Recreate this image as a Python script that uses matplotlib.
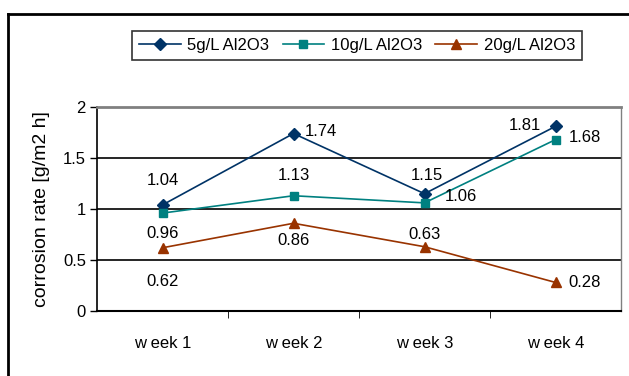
import matplotlib.pyplot as plt
from matplotlib.lines import Line2D

plt.rcParams['font.family'] = ['Liberation Sans', 'DejaVu Sans']

weeks = ['w eek 1', 'w eek 2', 'w eek 3', 'w eek 4']
al_5 = [1.04, 1.74, 1.15, 1.81]
al_10 = [0.96, 1.13, 1.06, 1.68]
al_20 = [0.62, 0.86, 0.63, 0.28]

x = [1, 2, 3, 4]

fig = plt.figure(figsize=(6.29, 3.76), dpi=100)
ax = fig.add_axes([97/629, 1-311/376, 524/629, 204/376])

ax.plot(x, al_5, '-D', color='#003366', ms=6, lw=1.2, label='5g/L Al2O3')
ax.plot(x, al_10, '-s', color='#008080', ms=6, lw=1.2, label='10g/L Al2O3')
ax.plot(x, al_20, '-^', color='#993300', ms=7, lw=1.2, label='20g/L Al2O3')

# label offsets in pixels (dx, dy, ha)
off_5 = [(0, 24, 'center'), (11, 2, 'left'), (2, 18, 'center'), (-14, 1, 'right')]
off_10 = [(0, -20, 'center'), (0, 20, 'center'), (20, 6, 'left'), (13, 2, 'left')]
off_20 = [(0, -34, 'center'), (0, -17, 'center'), (0, 12, 'center'), (13, 0, 'left')]
for vals, offs in [(al_5, off_5), (al_10, off_10), (al_20, off_20)]:
    for xi, v, (dx, dy, ha) in zip(x, vals, offs):
        ax.annotate(f'{v:.2f}', (xi, v), xytext=(dx, dy), textcoords='offset pixels',
                    ha=ha, va='center', fontsize=12)

ax.set_xlim(0.5, 4.5)
ax.set_ylim(0, 2)
ax.set_yticks([0, 0.5, 1, 1.5, 2])
ax.set_yticklabels(['0', '0.5', '1', '1.5', '2'])
ax.set_xticks(x)
ax.set_xticklabels(weeks)
ax.set_xticks([1.5, 2.5, 3.5], minor=True)
ax.tick_params(axis='x', which='major', length=0, pad=18, labelsize=12)
ax.tick_params(axis='x', which='minor', length=5, direction='out', color='black')
ax.tick_params(axis='y', length=5, direction='out', width=1, labelsize=12, pad=3)
ax.set_ylabel('corrosion rate [g/m2 h]', fontsize=14)
ax.yaxis.set_label_coords(-0.09, 0.5)
for y in [0.5, 1, 1.5]:
    ax.axhline(y, color='black', lw=1.2, zorder=0)
ax.spines['left'].set_color('black')
ax.spines['bottom'].set_color('black')
ax.spines['left'].set_linewidth(1.2)
ax.spines['bottom'].set_linewidth(1.5)
ax.spines['top'].set_color('#808080')
ax.spines['top'].set_linewidth(2)
ax.spines['right'].set_color('#808080')
ax.spines['right'].set_linewidth(1)

leg = fig.legend(loc='center', bbox_to_anchor=(357/629, 1-45.5/376), ncol=3,
                 fontsize=12, frameon=True, fancybox=False, edgecolor='black',
                 handlelength=2.5, columnspacing=0.8, handletextpad=0.4,
                 borderpad=0.4)
leg.get_frame().set_linewidth(1.2)

# outer chart border
fig.add_artist(Line2D([8/629, 8/629], [0, 1-14/376], color='black', lw=2))
fig.add_artist(Line2D([8/629, 1], [1-14/376, 1-14/376], color='black', lw=2))

fig.savefig('out.png', dpi=100)
